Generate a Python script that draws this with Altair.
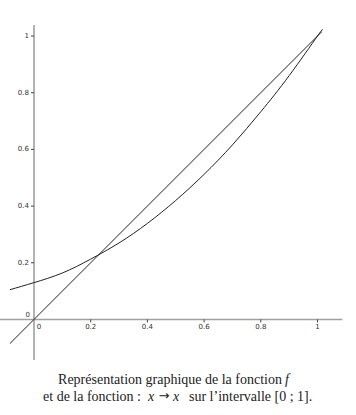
import altair as alt
import pandas as pd

# Curve f
f_x = [-0.085, 0.0, 0.1, 0.2, 0.3, 0.4, 0.5, 0.6, 0.7, 0.8, 0.9, 1.0, 1.016]
f_y = [0.105, 0.13, 0.164, 0.213, 0.27, 0.339, 0.42, 0.512, 0.616, 0.733, 0.86, 1.0, 1.02]
# Line x -> x
id_x = [-0.085, 1.016]
id_y = [-0.085, 1.016]
# Axis ticks
x_ticks = [0.2, 0.4, 0.6, 0.8, 1.0]
x_labels = ["0.2", "0.4", "0.6", "0.8", "1"]
y_ticks = [0.2, 0.4, 0.6, 0.8, 1.0]
y_labels = ["0.2", "0.4", "0.6", "0.8", "1"]
x_range = [-0.12, 1.088]
y_range = [-0.143, 1.039]

W, H = 342.4, 335.0
xs = alt.Scale(domain=x_range, nice=False, zero=False)
ys = alt.Scale(domain=y_range, nice=False, zero=False)


def X(f, **kw):
    return alt.X(f, type="quantitative", scale=xs, axis=None, **kw)


def Y(f, **kw):
    return alt.Y(f, type="quantitative", scale=ys, axis=None, **kw)


curve_df = pd.DataFrame({"x": f_x, "y": f_y})
id_df = pd.DataFrame({"x": id_x, "y": id_y})

xaxis_df = pd.DataFrame({"a": [x_range[0]], "b": [x_range[1]], "z": [0.0]})
yaxis_df = pd.DataFrame({"a": [y_range[0]], "b": [y_range[1]], "z": [0.0]})
xt_df = pd.DataFrame({"v": x_ticks, "lab": x_labels, "z": 0.0})
yt_df = pd.DataFrame({"v": y_ticks, "lab": y_labels, "z": 0.0})
zero_df = pd.DataFrame({"v": [0.0], "lab": ["0"], "z": 0.0})

axis_color = "#a0a0a0"
lab_color = "#333333"
lab_font = "DejaVu Sans"

x_axis = alt.Chart(xaxis_df).mark_rule(color=axis_color, strokeWidth=1.6).encode(
    x=X("a"), x2="b", y=Y("z"))
y_axis = alt.Chart(yaxis_df).mark_rule(color=axis_color, strokeWidth=1.6).encode(
    y=Y("a"), y2="b", x=X("z"))

x_tick_marks = alt.Chart(xt_df).mark_rule(color="#444", strokeWidth=1, y2Offset=3).encode(
    x=X("v"), y=Y("z"), y2="z")
y_tick_marks = alt.Chart(yt_df).mark_rule(color="#444", strokeWidth=1, x2Offset=-3).encode(
    y=Y("v"), x=X("z"), x2="z")

x_tick_labels = alt.Chart(xt_df).mark_text(
    font=lab_font, fontSize=7, color=lab_color, baseline="top", dy=4).encode(
    x=X("v"), y=Y("z"), text="lab")
y_tick_labels = alt.Chart(yt_df).mark_text(
    font=lab_font, fontSize=7, color=lab_color, align="right", baseline="middle", dx=-5).encode(
    y=Y("v"), x=X("z"), text="lab")
x_zero = alt.Chart(zero_df).mark_text(
    font=lab_font, fontSize=7, color=lab_color, baseline="top", align="center", dx=5, dy=4).encode(
    x=X("z"), y=Y("v"), text="lab")
y_zero = alt.Chart(zero_df).mark_text(
    font=lab_font, fontSize=7, color=lab_color, baseline="bottom", align="right", dx=-4, dy=-1).encode(
    x=X("v"), y=Y("z"), text="lab")

curve = alt.Chart(curve_df).mark_line(color="#222222", strokeWidth=1, interpolate="natural").encode(
    x=X("x"), y=Y("y"))
ident = alt.Chart(id_df).mark_line(color="#222222", strokeWidth=1).encode(
    x=X("x"), y=Y("y"))

serif = "Liberation Serif"
cap_color = "#222222"


def cap(txt, px, py, align, italic=False, font=serif, size=14):
    return alt.Chart(pd.DataFrame({"t": [txt]})).mark_text(
        font=font, fontSize=size, color=cap_color, align=align, baseline="alphabetic",
        fontStyle="italic" if italic else "normal").encode(
        x=alt.value(px), y=alt.value(py), text="t:N")


captions = [
    cap("Représentation graphique de la fonction", 282, 359, "right"),
    cap("f", 285, 359, "left", italic=True),
    cap("et de la fonction :", 141, 376, "right"),
    cap("x", 148, 376, "left", italic=True),
    cap("→", 164, 375, "center", font="DejaVu Sans", size=13),
    cap("x", 173, 376, "left", italic=True),
    cap("sur l’intervalle [0 ; 1].", 189, 376, "left"),
]

chart = alt.layer(
    x_axis, y_axis, x_tick_marks, y_tick_marks, x_tick_labels, y_tick_labels,
    x_zero, y_zero, ident, curve, *captions
).properties(
    width=W, height=H,
    autosize=alt.AutoSizeParams(type="none"),
    padding={"left": 0, "top": 25, "right": 356 - W, "bottom": 415 - 25 - H},
).configure_view(stroke=None)

chart.save("out.html", embed_options={"renderer": "svg", "actions": False})
